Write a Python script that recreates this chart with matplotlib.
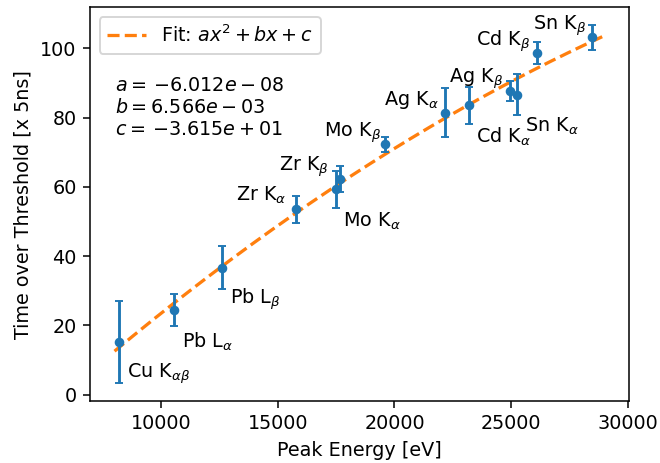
import numpy as np
import matplotlib
matplotlib.use('Agg')
import matplotlib.pyplot as plt

# peak energies [eV], time over threshold [x 5ns] and errors
lines = ['Cu K$_{\\alpha\\beta}$', 'Pb L$_{\\alpha}$', 'Pb L$_{\\beta}$',
         'Zr K$_{\\alpha}$', 'Mo K$_{\\alpha}$', 'Zr K$_{\\beta}$',
         'Mo K$_{\\beta}$', 'Ag K$_{\\alpha}$', 'Cd K$_{\\alpha}$',
         'Ag K$_{\\beta}$', 'Sn K$_{\\alpha}$', 'Cd K$_{\\beta}$',
         'Sn K$_{\\beta}$']
energy = [8200, 10551, 12613, 15775, 17479, 17668, 19608, 22163, 23174,
          24942, 25271, 26095, 28486]
tot = [15.2, 24.4, 36.7, 53.5, 59.3, 62.2, 72.3, 81.5, 83.6, 87.7, 86.7,
       98.7, 103.2]
tot_err = [11.9, 4.7, 6.1, 4.0, 5.3, 3.75, 2.2, 7.0, 5.4, 2.9, 5.9, 3.1, 3.5]

# fit parameters
a = -6.012e-08
b = 6.566e-03
c = -3.615e+01

# label offsets (points) and side
below = [True, True, True, False, True, False, False, False, True, False,
         True, False, False]
lo = (3.9, -16.5)
offs = [lo, lo, lo, (-5.0, 7.2), lo, (-5.6, 6.3), (-2.1, 6.3), (-3.4, 6.6),
        lo, (-3.4, 6.3), lo, (-3.2, 6.0), (-3.4, 6.0)]

DPI = 138
fig = plt.figure(figsize=(660 / DPI, 463 / DPI), dpi=DPI)
ax = fig.add_subplot(111)
fig.subplots_adjust(left=0.1364, right=0.953, bottom=0.1339, top=0.984)

xf = np.linspace(8000, 29000, 200)
ax.plot(xf, a * xf**2 + b * xf + c, '--', color='C1', lw=1.7,
        label='Fit: $ax^2 + bx + c$')
ax.errorbar(energy, tot, yerr=tot_err, fmt='o', color='C0', markersize=4,
            capsize=2)

for i in range(len(lines)):
    ax.annotate(lines[i], (energy[i], tot[i]), xytext=offs[i],
                textcoords='offset points', va='center',
                ha='left' if below[i] else 'right')

ax.text(0.046, 0.825,
        '$a = \\,{-6.012}e - 08$\n$b = 6.566e - 03$\n$c = \\,{-3.615}e + 01$',
        transform=ax.transAxes, va='top', ha='left')

ax.legend(loc='upper left')
ax.set_xlabel('Peak Energy [eV]')
ax.set_ylabel('Time over Threshold [x 5ns]')
fig.savefig('out.png', dpi=DPI)
